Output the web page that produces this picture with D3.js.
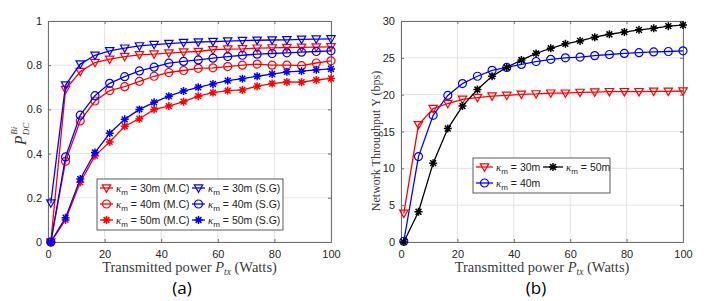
<!DOCTYPE html>
<html>
<head>
<meta charset="utf-8">
<script src="https://cdn.jsdelivr.net/npm/d3@7"></script>
<style>
  body { margin: 0; background: #fff; }
  svg { display: block; }
  .tick text { font-family: "Liberation Sans", Arial, sans-serif; font-size: 11px; fill: #262626; }
  .axTitle { font-family: "Liberation Serif", "DejaVu Serif", serif; font-size: 14.5px; fill: #3a3a3a; }
  .legText { font-family: "Liberation Sans", Arial, sans-serif; font-size: 10.5px; fill: #222; }
  .panel { font-family: "Open Sans", "Liberation Sans", sans-serif; font-size: 17px; fill: #000; }
</style>
</head>
<body>
<div id="chart"></div>
<script>
// sample powers (Watts), 20 points from 1 to 100
var power = [1, 6.2, 11.4, 16.6, 21.8, 27.1, 32.3, 37.5, 42.7, 47.9, 53.1, 58.3, 63.5, 68.7, 73.9, 79.2, 84.4, 89.6, 94.8, 100];

// panel (a): detection probability
var mc30 = [0, 0.69, 0.771, 0.812, 0.827, 0.839, 0.847, 0.85, 0.855, 0.859, 0.862, 0.87, 0.873, 0.874, 0.877, 0.878, 0.88, 0.881, 0.882, 0.883];
var sg30 = [0.176, 0.71, 0.805, 0.845, 0.865, 0.877, 0.887, 0.893, 0.898, 0.902, 0.905, 0.907, 0.909, 0.911, 0.913, 0.914, 0.915, 0.917, 0.918, 0.919];
var mc40 = [0, 0.365, 0.548, 0.638, 0.685, 0.703, 0.727, 0.75, 0.767, 0.776, 0.786, 0.788, 0.794, 0.8, 0.805, 0.8, 0.8, 0.798, 0.81, 0.82];
var sg40 = [0, 0.385, 0.574, 0.662, 0.718, 0.748, 0.774, 0.791, 0.809, 0.817, 0.824, 0.832, 0.839, 0.845, 0.85, 0.853, 0.856, 0.859, 0.862, 0.865];
var mc50 = [0, 0.1, 0.27, 0.39, 0.453, 0.524, 0.558, 0.6, 0.615, 0.635, 0.66, 0.676, 0.685, 0.688, 0.705, 0.717, 0.724, 0.723, 0.733, 0.74];
var sg50 = [0, 0.11, 0.285, 0.405, 0.492, 0.555, 0.6, 0.632, 0.66, 0.683, 0.7, 0.715, 0.73, 0.739, 0.75, 0.76, 0.77, 0.773, 0.779, 0.783];

// panel (b): network throughput (bps)
var thr30 = [3.9, 15.9, 18.1, 18.8, 19.36, 19.6, 19.8, 19.9, 20.05, 20.1, 20.2, 20.2, 20.3, 20.35, 20.4, 20.4, 20.4, 20.45, 20.45, 20.5];
var thr40 = [0.1, 11.6, 17.2, 19.9, 21.5, 22.5, 23.3, 23.7, 24.1, 24.5, 24.8, 25.0, 25.1, 25.3, 25.45, 25.6, 25.7, 25.8, 25.86, 25.95];
var thr50 = [0, 4.1, 10.7, 15.4, 18.45, 20.7, 22.5, 23.7, 24.7, 25.6, 26.3, 26.9, 27.3, 27.8, 28.2, 28.5, 28.8, 29.0, 29.3, 29.45];

var xTicks = [0, 20, 40, 60, 80, 100];
var yTicksA = [0, 0.2, 0.4, 0.6, 0.8, 1];
var yTicksB = [0, 5, 10, 15, 20, 25, 30];

var svg = d3.select("#chart").append("svg")
    .attr("width", 720).attr("height", 301);

// marker drawing
function marker(g, type, color) {
  if (type == "tri") {
    g.append("path").attr("d", "M-4.2,-3.2L4.2,-3.2L0,4.2Z")
      .attr("fill", "none").attr("stroke", color).attr("stroke-width", 1.2);
  } else if (type == "circ") {
    g.append("circle").attr("r", 4)
      .attr("fill", "none").attr("stroke", color).attr("stroke-width", 1.2);
  } else {
    g.append("path").attr("d", "M-4,0L4,0M0,-4L0,4M-2.9,-2.9L2.9,2.9M-2.9,2.9L2.9,-2.9")
      .attr("stroke", color).attr("stroke-width", 1.5);
  }
}

function drawPanel(opts) {
  var x = d3.scaleLinear().domain([0, 100]).range([opts.left, opts.right]);
  var y = d3.scaleLinear().domain(opts.yDomain).range([242, 21]);
  var g = svg.append("g");

  // grid
  g.selectAll(".gx").data(xTicks).enter().append("line")
    .attr("x1", d => x(d)).attr("x2", d => x(d))
    .attr("y1", y.range()[0]).attr("y2", y.range()[1])
    .attr("stroke", "#e3e3e3").attr("stroke-width", 1);
  g.selectAll(".gy").data(opts.yTicks).enter().append("line")
    .attr("y1", d => y(d)).attr("y2", d => y(d))
    .attr("x1", opts.left).attr("x2", opts.right)
    .attr("stroke", "#e3e3e3").attr("stroke-width", 1);

  // axes
  var bottom = g.append("g").attr("transform", "translate(0,242)")
    .call(d3.axisBottom(x).tickValues(xTicks).tickSizeInner(-3).tickSizeOuter(0).tickPadding(8));
  var top = g.append("g").attr("transform", "translate(0,21)")
    .call(d3.axisTop(x).tickValues(xTicks).tickSizeInner(-3).tickSizeOuter(0).tickFormat(""));
  var leftAx = g.append("g").attr("transform", "translate(" + opts.left + ",0)")
    .call(d3.axisLeft(y).tickValues(opts.yTicks).tickSizeInner(-3).tickSizeOuter(0).tickPadding(6)
      .tickFormat(opts.fmt));
  var rightAx = g.append("g").attr("transform", "translate(" + opts.right + ",0)")
    .call(d3.axisRight(y).tickValues(opts.yTicks).tickSizeInner(-3).tickSizeOuter(0).tickFormat(""));
  [bottom, top, leftAx, rightAx].forEach(function(a) {
    a.select(".domain").attr("stroke", "#6e6e6e");
    a.selectAll(".tick line").attr("stroke", "#6e6e6e");
  });

  // series
  opts.series.forEach(function(s) {
    var line = d3.line().x((d, i) => x(power[i])).y(d => y(d));
    g.append("path").datum(s.values).attr("d", line)
      .attr("fill", "none").attr("stroke", s.color).attr("stroke-width", 1.3);
    s.values.forEach(function(v, i) {
      var m = g.append("g").attr("transform", "translate(" + x(power[i]) + "," + y(v) + ")");
      marker(m, s.marker, s.color);
    });
  });

  // x title
  var xt = g.append("text").attr("class", "axTitle")
    .attr("x", (opts.left + opts.right) / 2).attr("y", 272).attr("text-anchor", "middle");
  xt.append("tspan").text("Transmitted power ");
  xt.append("tspan").attr("font-style", "italic").text("P");
  xt.append("tspan").attr("font-style", "italic").attr("font-size", "9.5px").attr("dy", 3).text("tx");
  xt.append("tspan").attr("dy", -3).text(" (Watts)");

  // panel label
  g.append("text").attr("class", "panel").attr("text-anchor", "middle")
    .attr("x", opts.panelX).attr("y", 294).text(opts.panel);

  return {x: x, y: y, g: g};
}

var a = drawPanel({
  left: 48, right: 331, yDomain: [0, 1], yTicks: yTicksA, fmt: d3.format("~g"),
  panel: "(a)", panelX: 182,
  series: [
    {values: mc30, color: "#ff0000", marker: "tri"},
    {values: mc40, color: "#ff0000", marker: "circ"},
    {values: mc50, color: "#ff0000", marker: "star"},
    {values: sg30, color: "#0000ff", marker: "tri"},
    {values: sg40, color: "#0000ff", marker: "circ"},
    {values: sg50, color: "#0000ff", marker: "star"}
  ]
});

var b = drawPanel({
  left: 401, right: 683, yDomain: [0, 30], yTicks: yTicksB, fmt: d3.format("d"),
  panel: "(b)", panelX: 536,
  series: [
    {values: thr40, color: "#0000ff", marker: "circ"},
    {values: thr30, color: "#ff0000", marker: "tri"},
    {values: thr50, color: "#000000", marker: "star"}
  ]
});

// y titles
var yl = svg.append("text").attr("class", "axTitle")
  .attr("transform", "translate(26,134) rotate(-90)").attr("text-anchor", "middle")
  .attr("font-style", "italic");
yl.append("tspan").attr("font-size", "16px").text("P");
yl.append("tspan").attr("font-size", "9px").attr("dy", 3).text("DC");
yl.append("tspan").attr("font-size", "9px").attr("dx", -12).attr("dy", -12).text("Bi");

svg.append("text").attr("class", "axTitle")
  .attr("transform", "translate(380,141) rotate(-90)").attr("text-anchor", "middle")
  .attr("font-size", "12px").style("font-size", "12px")
  .text("Network Throughput \u03A5 (bps)");

// legends
function legend(box, items) {
  svg.append("rect").attr("x", box.x).attr("y", box.y).attr("width", box.w).attr("height", box.h)
    .attr("fill", "#fff").attr("stroke", "#333").attr("stroke-width", 0.8);
  items.forEach(function(it) {
    var lg = svg.append("g");
    lg.append("line").attr("x1", it.x).attr("x2", it.x + it.len).attr("y1", it.y).attr("y2", it.y)
      .attr("stroke", it.color).attr("stroke-width", 1.3);
    var m = lg.append("g").attr("transform", "translate(" + (it.x + it.len / 2) + "," + it.y + ")");
    marker(m, it.marker, it.color);
    var t = lg.append("text").attr("class", "legText").attr("x", it.x + it.len + 3).attr("y", it.y + 3.5);
    t.append("tspan").attr("font-style", "italic").attr("font-family", "Liberation Serif, serif").attr("font-size", "11px").text("\u03BA");
    t.append("tspan").attr("font-size", "8px").attr("dy", 3).text("m");
    t.append("tspan").attr("dy", -3).text(" = " + it.label);
  });
}

legend({x: 97, y: 179, w: 186, h: 51}, [
  {x: 100, y: 188, len: 13, color: "#ff0000", marker: "tri", label: "30m (M.C)"},
  {x: 100, y: 204, len: 13, color: "#ff0000", marker: "circ", label: "40m (M.C)"},
  {x: 100, y: 220, len: 13, color: "#ff0000", marker: "star", label: "50m (M.C)"},
  {x: 192, y: 188, len: 13, color: "#0000ff", marker: "tri", label: "30m (S.G)"},
  {x: 192, y: 204, len: 13, color: "#0000ff", marker: "circ", label: "40m (S.G)"},
  {x: 192, y: 220, len: 13, color: "#0000ff", marker: "star", label: "50m (S.G)"}
]);

legend({x: 473, y: 158, w: 137, h: 35}, [
  {x: 476, y: 167, len: 17, color: "#ff0000", marker: "tri", label: "30m"},
  {x: 476, y: 183, len: 17, color: "#0000ff", marker: "circ", label: "40m"},
  {x: 543, y: 167, len: 20, color: "#000000", marker: "star", label: "50m"}
]);
</script>
</body>
</html>
